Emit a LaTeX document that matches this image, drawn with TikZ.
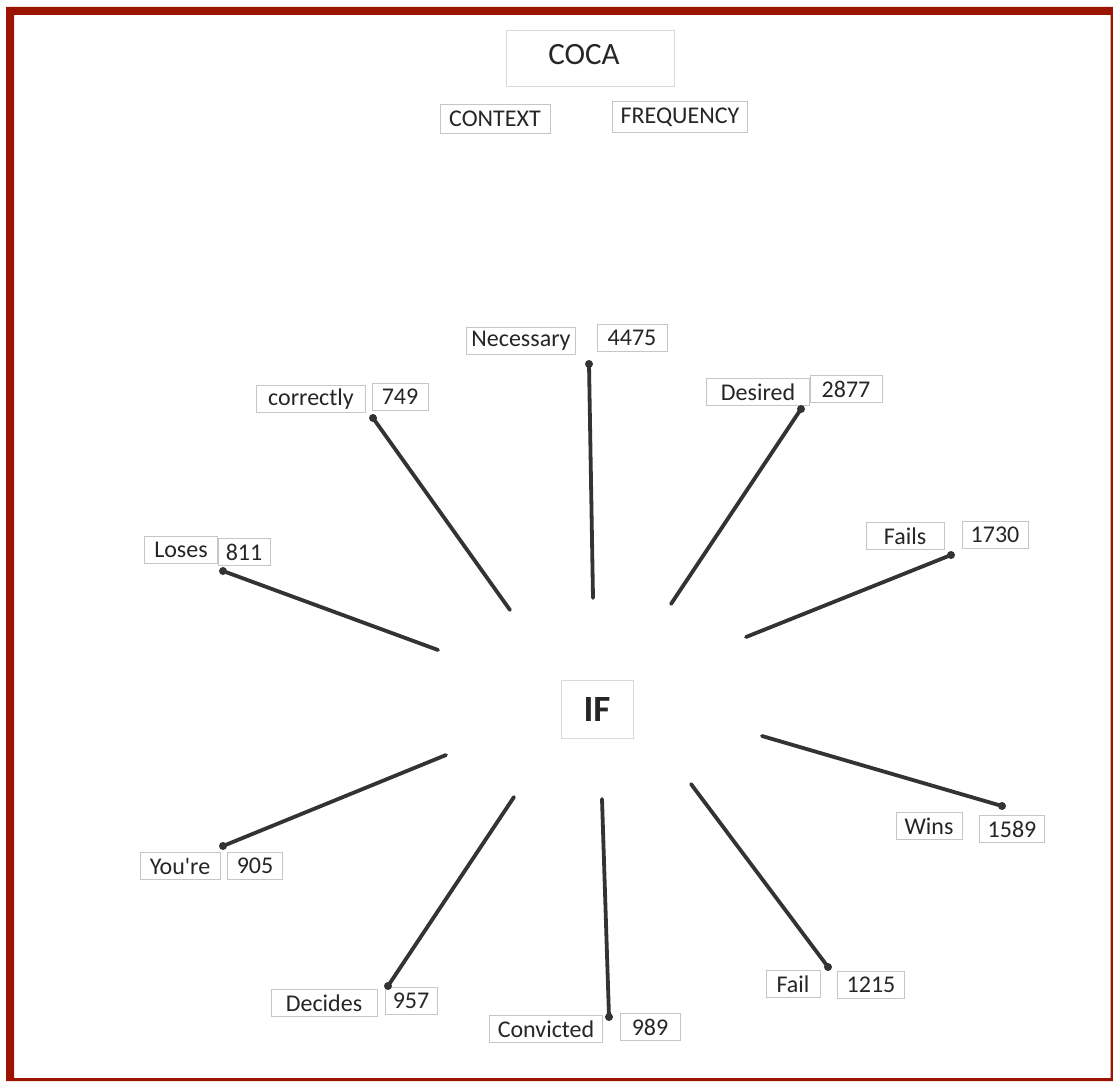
\documentclass[tikz,border=0pt]{standalone}
\usepackage{fontspec}
\setmainfont{Carlito}
\newfontfamily\plainfont{Carlito}
\definecolor{frame}{HTML}{9B1400}
\definecolor{ink}{HTML}{262626}
\definecolor{spoke}{HTML}{333333}
\tikzset{
  paper/.style={draw=gray!45, line width=0.7pt, text=ink, inner sep=0pt, minimum height=27pt, font=\fontsize{24}{24}\selectfont},
  spokeline/.style={draw=spoke, line width=3.8pt, line cap=round},
  knob/.style={fill=spoke, circle, inner sep=0pt, minimum size=8pt}
}
\begin{document}
\begin{tikzpicture}[x=1pt,y=-1pt]
\useasboundingbox (0,0) rectangle (1113,1081);
\fill[white] (0,0) rectangle (1113,1081);
\fill[frame, even odd rule] (6,7) rectangle (1113,1081) (14,15) rectangle (1110.5,1078);

% headings
\node[paper, draw=gray!30, minimum width=168pt, minimum height=56pt] (coca) at (590,58) {};
\node[text=ink, font=\fontsize{31}{31}\selectfont] (cocat) at (584,55) {COCA};
\node[paper, minimum width=110pt, minimum height=29pt] (context) at (495,119) {CONTEXT};
\node[paper, minimum width=135pt, minimum height=31pt] (frequency) at (680,117) {FREQUENCY};

% centre
\node[paper, draw=gray!30, minimum width=72pt, minimum height=58pt, font=\fontsize{37}{37}\selectfont\bfseries] (if) at (597,709) {IF};

% labels
\node[paper, minimum width=109pt] (necessary) at (521,341) {Necessary};
\node[paper, minimum width=70pt] (n4475) at (632,338) {4475};
\node[paper, minimum width=109pt] (correctly) at (311,399) {correctly};
\node[paper, minimum width=56pt] (n749) at (400,397) {749};
\node[paper, minimum width=103pt] (desired) at (758,392) {Desired};
\node[paper, minimum width=72pt] (n2877) at (846,389) {2877};
\node[paper, minimum width=78pt] (fails) at (905,536) {Fails};
\node[paper, minimum width=66pt] (n1730) at (995,535) {1730};
\node[paper, minimum width=73pt] (loses) at (181,550) {Loses};
\node[paper, minimum width=52pt] (n811) at (244,552) {811};
\node[paper, minimum width=66pt] (wins) at (929,826) {Wins};
\node[paper, minimum width=65pt] (n1589) at (1012,829) {1589};
\node[paper, minimum width=80pt] (youre) at (180,866) {\plainfont You're};
\node[paper, minimum width=55pt] (n905) at (255,866) {905};
\node[paper, minimum width=106pt] (decides) at (324,1003) {Decides};
\node[paper, minimum width=52pt] (n957) at (411,1001) {957};
\node[paper, minimum width=113pt] (convicted) at (546,1029) {Convicted};
\node[paper, minimum width=60pt] (n989) at (650,1027) {989};
\node[paper, minimum width=54pt] (fail) at (793,984) {Fail};
\node[paper, minimum width=67pt] (n1215) at (871,985) {1215};

% spoke end points
\coordinate (necA) at (589,364); \coordinate (necB) at (593,598);
\coordinate (corA) at (373,418); \coordinate (corB) at (510,610);
\coordinate (desA) at (801,409); \coordinate (desB) at (671,604);
\coordinate (faisA) at (951,555); \coordinate (faisB) at (746,637);
\coordinate (losA) at (223,571); \coordinate (losB) at (438,650);
\coordinate (winA) at (1002,806); \coordinate (winB) at (762,736);
\coordinate (youA) at (223,846); \coordinate (youB) at (446,755);
\coordinate (decA) at (388,986); \coordinate (decB) at (514,797);
\coordinate (conA) at (609,1017); \coordinate (conB) at (602,799);
\coordinate (faiA) at (828,967); \coordinate (faiB) at (691,784);

\foreach \a/\b in {necA/necB, corA/corB, desA/desB, faisA/faisB, losA/losB, winA/winB, youA/youB, decA/decB, conA/conB, faiA/faiB}{
  \draw[spokeline] (\a) -- (\b);
  \node[knob] at (\a) {};
}
\end{tikzpicture}
\end{document}
